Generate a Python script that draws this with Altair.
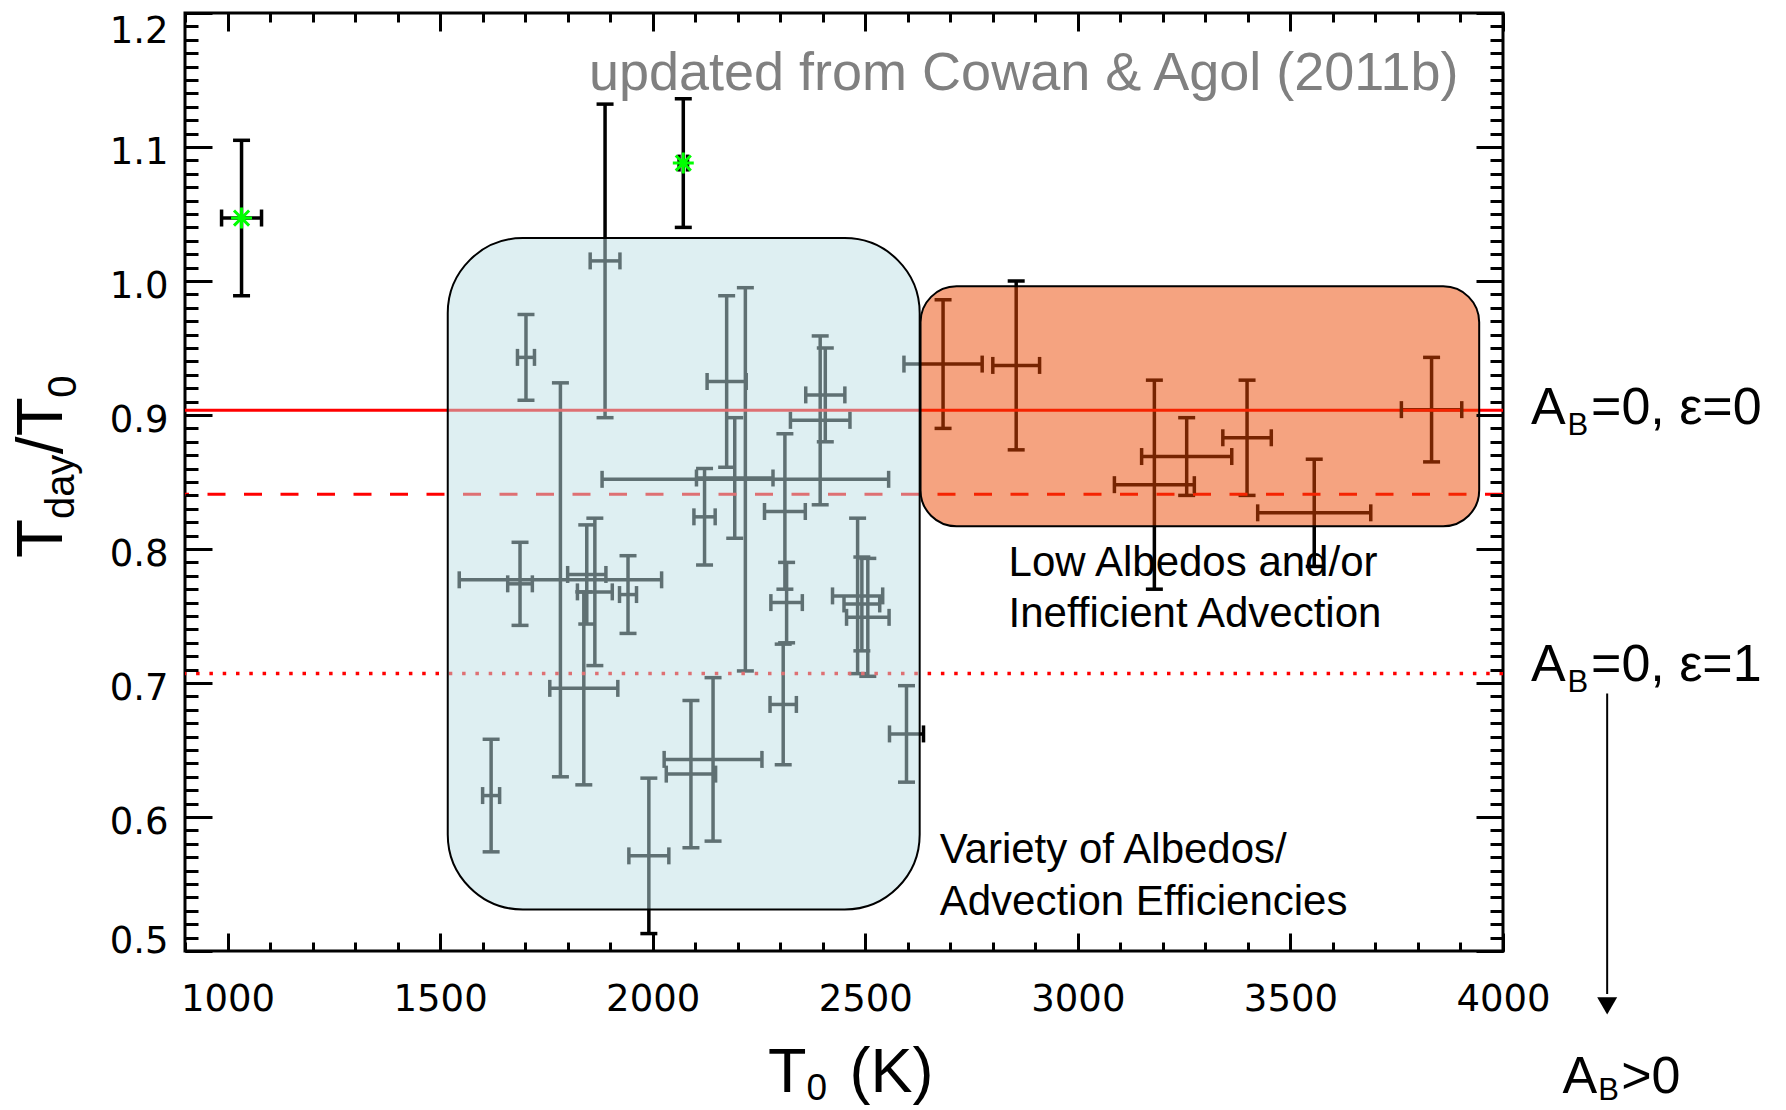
import altair as alt
import pandas as pd

# ---------------- data ----------------
t0 = [1033, 2072, 1888, 1991,
      1702, 1620, 1783, 1688, 1838, 1845, 1864, 1942,
      2122, 2218, 2174, 2193, 2311, 2315, 2307, 2394, 2406,
      2482, 2492, 2506, 2597, 2142, 2090,
      2683, 2855, 3180, 3256, 3398, 3556, 3832]
t0_err = [47, 10, 35, 47,
          20, 20, 238, 29, 80, 45, 41, 20,
          25, 337, 46, 90, 48, 37, 31, 70, 46,
          59, 42, 50, 40, 115, 58,
          92, 55, 94, 106, 57, 133, 71]
ratio = [1.047, 1.088, 1.015, 0.571,
         0.943, 0.616, 0.777, 0.774, 0.696, 0.781, 0.768, 0.766,
         0.824, 0.852, 0.925, 0.853, 0.828, 0.760, 0.684, 0.896, 0.915,
         0.765, 0.759, 0.749, 0.662, 0.643, 0.632,
         0.938, 0.937, 0.848, 0.869, 0.883, 0.827, 0.904]
ratio_err = [0.058, 0.048, 0.117, 0.058,
             0.032, 0.042, 0.147, 0.031, 0.072, 0.037, 0.055, 0.029,
             0.036, 0.143, 0.064, 0.045, 0.058, 0.030, 0.045, 0.063, 0.035,
             0.058, 0.035, 0.044, 0.036, 0.061, 0.055,
             0.048, 0.063, 0.078, 0.029, 0.043, 0.040, 0.039]

star_t0 = [1033, 2072]
star_ratio = [1.047, 1.088]

ref_levels = [0.9036, 0.8409, 0.7071]   # A_B=0: eps=0, intermediate, eps=1

region_t0_lo = [1518, 2630]
region_t0_hi = [2628, 3944]
region_ratio_lo = [0.531, 0.817]
region_ratio_hi = [1.032, 0.996]

x_ticks = [1000, 1500, 2000, 2500, 3000, 3500, 4000]
y_ticks = [0.5, 0.6, 0.7, 0.8, 0.9, 1.0, 1.1, 1.2]

# ---------------- tables ----------------
df = pd.DataFrame({"t0": t0, "t0_err": t0_err, "ratio": ratio, "ratio_err": ratio_err})
df["t_lo"] = df["t0"] - df["t0_err"]
df["t_hi"] = df["t0"] + df["t0_err"]
df["r_lo"] = df["ratio"] - df["ratio_err"]
df["r_hi"] = df["ratio"] + df["ratio_err"]

stars = pd.DataFrame({"t0": star_t0, "ratio": star_ratio})
refs = pd.DataFrame({"level": ref_levels})
regions = pd.DataFrame({"x1": region_t0_lo, "x2": region_t0_hi,
                        "y1": region_ratio_lo, "y2": region_ratio_hi})

XS = alt.Scale(domain=[900, 4000], nice=False, zero=False)
YS = alt.Scale(domain=[0.5, 1.2], nice=False, zero=False)

FONT = "Liberation Sans"
LW = 3.5


def xaxis(orient, major):
    if major:
        return alt.Axis(orient=orient, values=x_ticks, format="d", tickSize=18, offset=-18,
                        domain=False, grid=False, labels=(orient == "bottom"),
                        labelFont="DejaVu Sans", labelFontSize=37, labelColor="black",
                        labelPadding=30, labelFlush=False, labelOverlap=False,
                        tickColor="black", tickWidth=3, title=None, zindex=2)
    return alt.Axis(orient=orient, tickCount=31, tickSize=9, offset=-9, domain=False,
                    grid=False, labels=False, tickColor="black", tickWidth=3,
                    title=None, zindex=2)


def yaxis(orient, major):
    if major:
        return alt.Axis(orient=orient, values=y_ticks, format=".1f", tickSize=27, offset=-27,
                        domain=False, grid=False, labels=(orient == "left"),
                        labelFont="DejaVu Sans", labelFontSize=37, labelColor="black",
                        labelPadding=17, labelFlush=False, labelOverlap=False,
                        labelOffset={"condition": [{"test": "datum.value < 0.55", "value": -10},
                                                   {"test": "datum.value > 1.15", "value": 18}],
                                     "value": 5},
                        tickColor="black", tickWidth=3, title=None, zindex=2)
    return alt.Axis(orient=orient, tickCount=70, tickSize=13, offset=-13, domain=False,
                    grid=False, labels=False, tickColor="black", tickWidth=3,
                    title=None, zindex=2)


base = alt.Chart(df)

# reference lines
line_solid = alt.Chart(refs).transform_filter("datum.level > 0.88").mark_rule(
    color="#FF0000", strokeWidth=3).encode(y=alt.Y("level:Q", scale=YS, axis=None))
line_dash = alt.Chart(refs).transform_filter("datum.level > 0.8 && datum.level < 0.88").mark_rule(
    color="#FF0000", strokeWidth=3, strokeDash=[18, 18.5]).encode(y=alt.Y("level:Q", scale=YS, axis=None))
line_dot = alt.Chart(refs).transform_filter("datum.level < 0.8").mark_rule(
    color="#FF0000", strokeWidth=3.5, strokeDash=[3.5, 9.8]).encode(y=alt.Y("level:Q", scale=YS, axis=None))

# error bars
vbar = base.mark_rule(color="black", strokeWidth=LW).encode(
    x=alt.X("t0:Q", scale=XS, axis=xaxis("bottom", True)),
    y=alt.Y("r_lo:Q", scale=YS, axis=yaxis("left", True)),
    y2="r_hi:Q")
hbar = base.mark_rule(color="black", strokeWidth=LW).encode(
    x=alt.X("t_lo:Q", scale=XS, axis=xaxis("top", True)),
    x2="t_hi:Q",
    y=alt.Y("ratio:Q", scale=YS, axis=yaxis("right", True)))
cap_lo = base.mark_tick(orient="horizontal", size=17, thickness=LW, color="black", opacity=1).encode(
    x=alt.X("t0:Q", scale=XS, axis=xaxis("bottom", False)),
    y=alt.Y("r_lo:Q", scale=YS, axis=yaxis("left", False)))
cap_hi = base.mark_tick(orient="horizontal", size=17, thickness=LW, color="black", opacity=1).encode(
    x=alt.X("t0:Q", scale=XS, axis=xaxis("top", False)),
    y=alt.Y("r_hi:Q", scale=YS, axis=yaxis("right", False)))
xcap_lo = base.mark_tick(orient="vertical", size=17, thickness=LW, color="black", opacity=1).encode(
    x=alt.X("t_lo:Q", scale=XS, axis=None),
    y=alt.Y("ratio:Q", scale=YS, axis=None))
xcap_hi = base.mark_tick(orient="vertical", size=17, thickness=LW, color="black", opacity=1).encode(
    x=alt.X("t_hi:Q", scale=XS, axis=None),
    y=alt.Y("ratio:Q", scale=YS, axis=None))

star_shape = "M-1,0L1,0M0,-1L0,1M-0.72,-0.72L0.72,0.72M-0.72,0.72L0.72,-0.72"
star = alt.Chart(stars).mark_point(shape=star_shape, size=440, stroke="#00FF00",
                                   strokeWidth=3, filled=False, opacity=1).encode(
    x=alt.X("t0:Q", scale=XS, axis=None), y=alt.Y("ratio:Q", scale=YS, axis=None))

# shaded regions (drawn over the bars, semi-transparent)
box_blue = alt.Chart(regions).transform_filter("datum.x1 < 2000").mark_rect(
    cornerRadius=75, fill="#BEE0E6", fillOpacity=0.5, stroke="black", strokeWidth=2).encode(
    x=alt.X("x1:Q", scale=XS, axis=None), x2="x2:Q",
    y=alt.Y("y1:Q", scale=YS, axis=None), y2="y2:Q")
box_orange = alt.Chart(regions).transform_filter("datum.x1 > 2000").mark_rect(
    cornerRadius=36, fill="#EB4701", fillOpacity=0.5, stroke="black", strokeWidth=2).encode(
    x=alt.X("x1:Q", scale=XS, axis=None), x2="x2:Q",
    y=alt.Y("y1:Q", scale=YS, axis=None), y2="y2:Q")


def label(text, x, y, size, color="black", angle=0):
    d = pd.DataFrame({"x": [x], "y": [y], "t": [text]})
    return alt.Chart(d).mark_text(font=FONT, fontSize=size, color=color, align="left",
                                  baseline="alphabetic", angle=angle).encode(
        x=alt.X("x:Q", scale=XS, axis=None), y=alt.Y("y:Q", scale=YS, axis=None), text="t:N")


texts = [
    label("updated from Cowan & Agol (2011b)", 1850, 1.1423, 54, color="#808080"),
    label("Low Albedos and/or", 2837, 0.7798, 42),
    label("Inefficient Advection", 2837, 0.7415, 42),
    label("Variety of Albedos/", 2675, 0.5654, 42),
    label("Advection Efficiencies", 2675, 0.5268, 42),
    # right-hand annotations
    label("A", 4066, 0.8932, 52), label("B", 4152, 0.8849, 31), label("=0, \u03b5=0", 4207, 0.8932, 52),
    label("A", 4066, 0.7013, 52), label("B", 4152, 0.6932, 31), label("=0, \u03b5=1", 4207, 0.7013, 52),
    label("A", 4140, 0.3940, 52), label("B", 4224, 0.3890, 31), label(">0", 4278, 0.3940, 52),
    # x title
    label("T", 2271, 0.3948, 63), label("0", 2362, 0.3890, 37), label("(K)", 2463, 0.3948, 63),
    # y title (rotated)
    label("T", 610, 0.7932, 64, angle=270), label("day", 639, 0.8223, 40, angle=270),
    label("/T", 610, 0.8708, 64, angle=270), label("0", 644, 0.9129, 40, angle=270),
]

arrow_df = pd.DataFrame({"x": [4245], "y1": [0.6922], "y2": [0.468], "yh": [0.459]})
arrow_line = alt.Chart(arrow_df).mark_rule(color="black", strokeWidth=2).encode(
    x=alt.X("x:Q", scale=XS, axis=None), y=alt.Y("y1:Q", scale=YS, axis=None), y2="y2:Q")
arrow_head = alt.Chart(arrow_df).mark_point(shape="triangle-down", size=400, filled=True,
                                            color="black", opacity=1).encode(
    x=alt.X("x:Q", scale=XS, axis=None), y=alt.Y("yh:Q", scale=YS, axis=None))

chart = alt.layer(
    vbar, hbar, cap_lo, cap_hi,
    line_solid, line_dash, line_dot,
    xcap_lo, xcap_hi, star,
    box_blue, box_orange,
    arrow_line, arrow_head,
    *texts
).properties(
    width=1318, height=938,
    padding={"left": 185, "top": 13, "right": 283, "bottom": 159},
    autosize=alt.AutoSizeParams(type="none"),
    background="white",
).configure_view(stroke="black", strokeWidth=3)

chart.save("out.html", embed_options={"renderer": "svg", "actions": False})
